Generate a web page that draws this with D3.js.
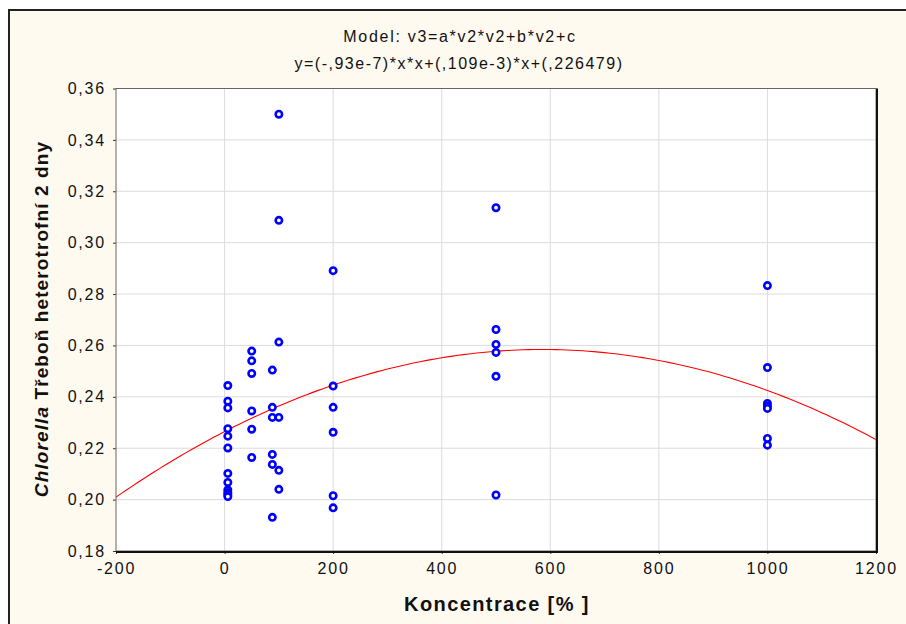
<!DOCTYPE html>
<meta charset="utf-8">
<body style="margin:0;background:#fff">
<script src="https://d3js.org/d3.v7.min.js"></script>
<div id="chart"></div>
<script>
// concentration groups and measured values
var conc6 = [0.2444, 0.2383, 0.2357, 0.2276, 0.2247, 0.2201, 0.2102, 0.2067, 0.2038, 0.2028, 0.2020, 0.2012]
var conc50 = [0.2578, 0.2540, 0.2491, 0.2345, 0.2274, 0.2164]
var conc88 = [0.2504, 0.2359, 0.2320, 0.2176, 0.2137, 0.1931]
var conc100 = [0.3500, 0.3087, 0.2613, 0.2320, 0.2114, 0.2040]
var conc200 = [0.2891, 0.2442, 0.2359, 0.2262, 0.2015, 0.1968]
var conc500 = [0.3136, 0.2662, 0.2604, 0.2573, 0.2480, 0.2018]
var conc1000 = [0.2833, 0.2514, 0.2374, 0.2364, 0.2355, 0.2238, 0.2212]
var groups = [[6, conc6], [50, conc50], [88, conc88], [100, conc100], [200, conc200], [500, conc500], [1000, conc1000]]

// fitted model  y = a*x*x + b*x + c
var coef = [-0.93e-7, 0.109e-3, 0.226479]
var xTicks = [-200, 0, 200, 400, 600, 800, 1000, 1200]
var yTicks = [0.18, 0.20, 0.22, 0.24, 0.26, 0.28, 0.30, 0.32, 0.34, 0.36]

var points = []
groups.forEach(g => g[1].forEach(v => points.push({ x: g[0], y: v })))

var W = 906, H = 624
var pLeft = 116, pRight = 876, pTop = 88.5, pBottom = 551

var svg = d3.select("#chart").append("svg")
    .attr("width", W).attr("height", H)
    .style("display", "block")
    .style("font-family", "'Liberation Sans', Arial, sans-serif")

// beige frame
svg.append("rect")
    .attr("x", 9).attr("y", 10).attr("width", W + 20).attr("height", H + 20)
    .attr("fill", "#fffaf0").attr("stroke", "#222").attr("stroke-width", 2)

var x = d3.scaleLinear().domain([-200, 1200]).range([pLeft, pRight])
var y = d3.scaleLinear().domain([0.18, 0.36]).range([pBottom, pTop])

svg.append("rect")
    .attr("x", pLeft).attr("y", pTop).attr("width", pRight - pLeft).attr("height", pBottom - pTop)
    .attr("fill", "#fff")

// grid
svg.append("g").selectAll("line").data(xTicks.slice(1, -1)).join("line")
    .attr("x1", d => x(d)).attr("x2", d => x(d)).attr("y1", pTop).attr("y2", pBottom)
    .attr("stroke", "#dcdcdc")
svg.append("g").selectAll("line").data(yTicks.slice(1, -1)).join("line")
    .attr("y1", d => y(d)).attr("y2", d => y(d)).attr("x1", pLeft).attr("x2", pRight)
    .attr("stroke", "#dcdcdc")

// axes
var fmt = d => d3.format(".2f")(d).replace(".", ",")
var gx = svg.append("g").attr("transform", `translate(0,${pBottom})`)
    .call(d3.axisBottom(x).tickValues(xTicks).tickFormat(d => String(d)).tickSize(3).tickPadding(6))
var gy = svg.append("g").attr("transform", `translate(${pLeft},0)`)
    .call(d3.axisLeft(y).tickValues(yTicks).tickFormat(fmt).tickSize(3).tickPadding(7))
;[gx, gy].forEach(g => {
    g.select(".domain").remove()
    g.selectAll("line").attr("stroke", "#333")
    g.selectAll("text")
        .style("font-family", "'Liberation Sans', Arial, sans-serif")
        .style("font-size", "16px").style("letter-spacing", "1.8px")
        .attr("fill", "#111")
})
gx.selectAll("text").attr("dy", "0.9em")

// plot border with shadow
svg.append("rect")
    .attr("x", pLeft).attr("y", pTop).attr("width", pRight - pLeft).attr("height", pBottom - pTop)
    .attr("fill", "none").attr("stroke", "#666").attr("stroke-width", 1)
svg.append("path")
    .attr("d", `M${pRight + 1},${pTop} V${pBottom + 1} H${pLeft}`)
    .attr("fill", "none").attr("stroke", "#111").attr("stroke-width", 2)

// fitted curve
svg.append("clipPath").attr("id", "clip").append("rect")
    .attr("x", pLeft).attr("y", pTop).attr("width", pRight - pLeft).attr("height", pBottom - pTop)
var curveX = d3.range(-200, 1201, 10)
var line = d3.line()
    .x(d => x(d))
    .y(d => y(coef[0] * d * d + coef[1] * d + coef[2]))
svg.append("path").datum(curveX)
    .attr("clip-path", "url(#clip)")
    .attr("d", line)
    .attr("fill", "none").attr("stroke", "#ff0000").attr("stroke-width", 1.1)

// points
svg.append("g").selectAll("circle").data(points).join("circle")
    .attr("cx", d => x(d.x)).attr("cy", d => y(d.y)).attr("r", 3.2)
    .attr("fill", "#fff").attr("stroke", "#0000ff").attr("stroke-width", 2.6)

// titles
svg.append("text").attr("x", 460).attr("y", 42).attr("text-anchor", "middle")
    .style("font-size", "16px").style("letter-spacing", "1.7px")
    .attr("fill", "#111")
    .text("Model:  v3=a*v2*v2+b*v2+c")
svg.append("text").attr("x", 459).attr("y", 69).attr("text-anchor", "middle")
    .style("font-size", "16px").style("letter-spacing", "1.5px")
    .attr("fill", "#111")
    .text("y=(-,93e-7)*x*x+(,109e-3)*x+(,226479)")

svg.append("text").attr("x", 497).attr("y", 611).attr("text-anchor", "middle")
    .style("font-size", "20px").style("font-weight", "bold").style("letter-spacing", "1.4px")
    .attr("fill", "#111")
    .text("Koncentrace [% ]")

var yl = svg.append("text")
    .attr("transform", "translate(48,319) rotate(-90)")
    .attr("text-anchor", "middle")
    .style("font-size", "19px").style("font-weight", "bold").style("letter-spacing", "1.1px")
    .attr("fill", "#111")
yl.append("tspan").style("font-style", "italic").text("Chlorella")
yl.append("tspan").text(" Třeboň heterotrofní 2 dny")
</script>
</body>
